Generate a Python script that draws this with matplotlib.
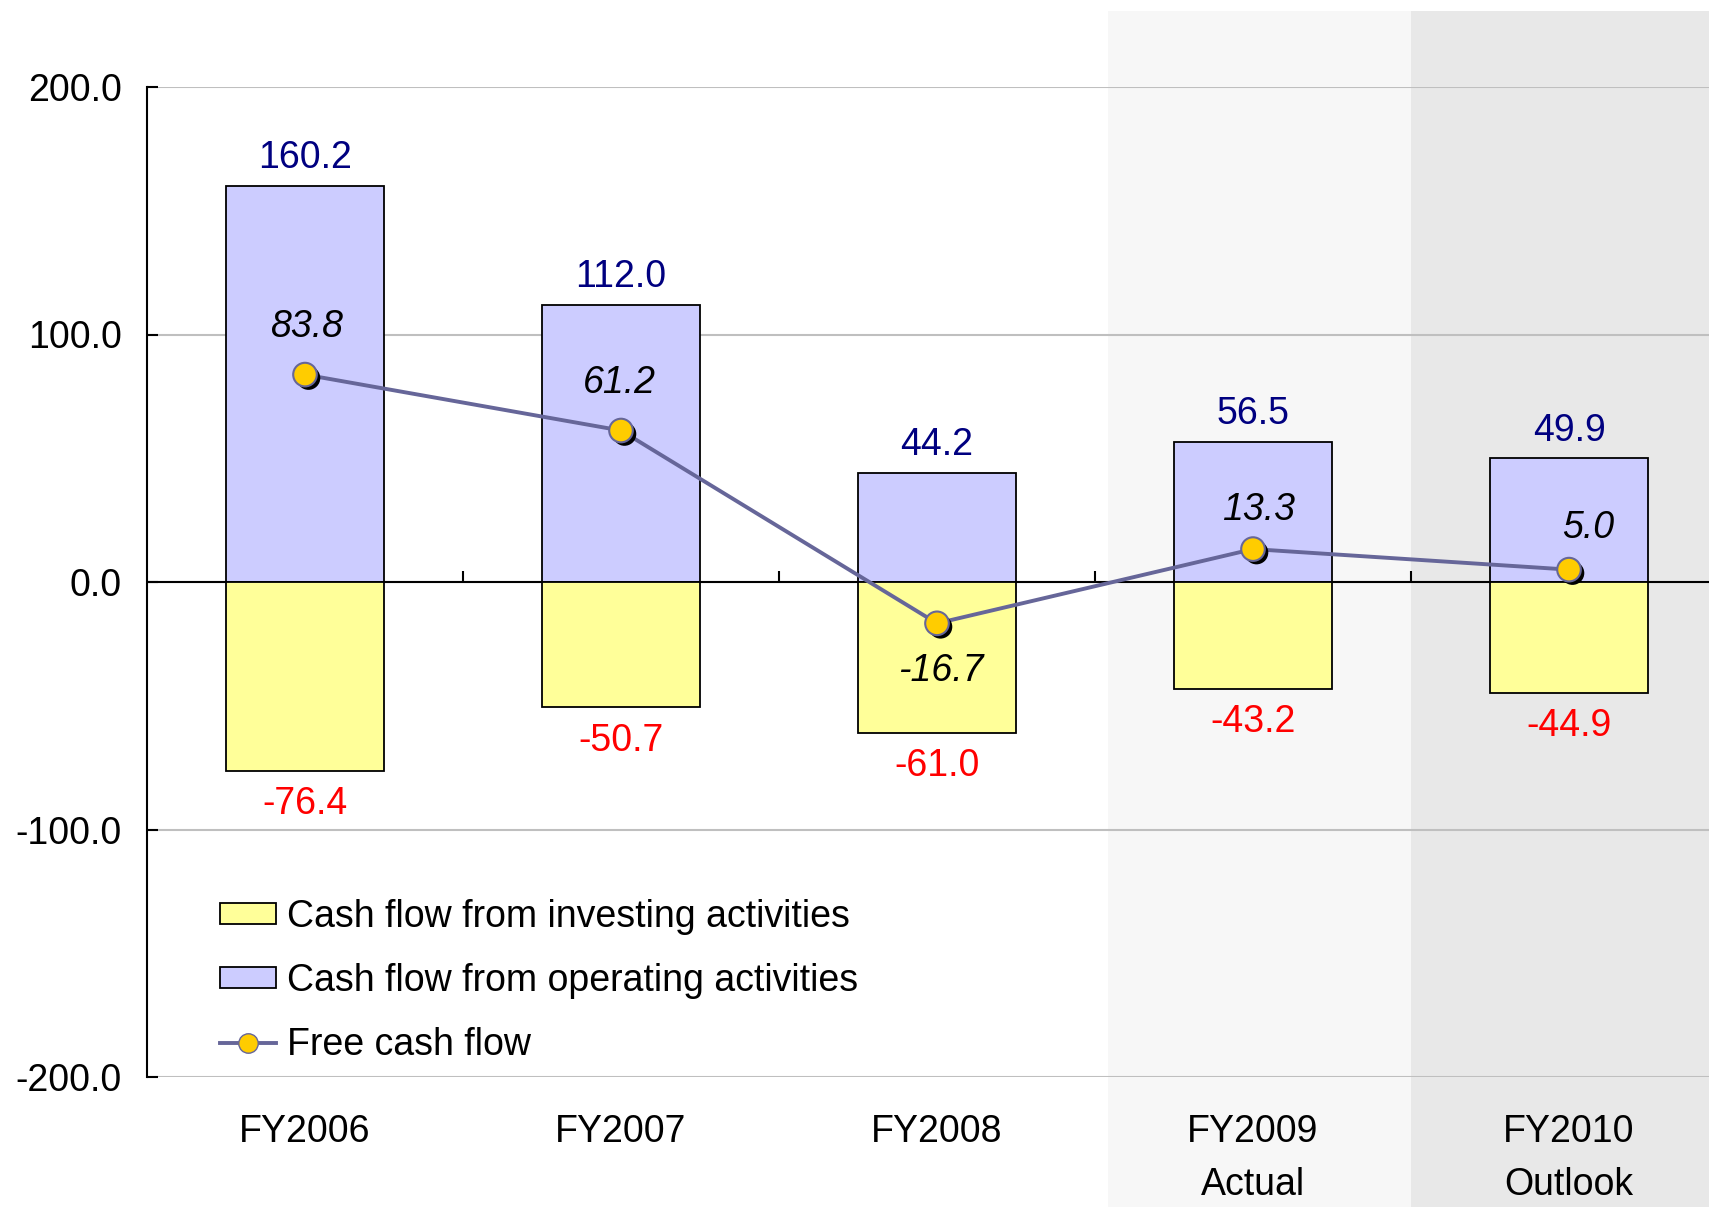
import matplotlib.pyplot as plt
import matplotlib.patheffects as pe
from matplotlib.patches import Rectangle, Patch
from matplotlib.lines import Line2D
import matplotlib.transforms as mtransforms

plt.rcParams['font.family'] = ['Liberation Sans', 'DejaVu Sans']

years = ['FY2006', 'FY2007', 'FY2008', 'FY2009\nActual', 'FY2010\nOutlook']
operating = [160.2, 112.0, 44.2, 56.5, 49.9]
investing = [-76.4, -50.7, -61.0, -43.2, -44.9]
free_cf = [83.8, 61.2, -16.7, 13.3, 5.0]

# label offsets (points) for the free cash flow labels
fcf_dx = [1, -1, 3, 4, 14]
fcf_dy = [34, 34, -34, 28, 30]

W, H = 1709, 1207
fig = plt.figure(figsize=(W / 100, H / 100), dpi=100)
ax = fig.add_axes([147 / W, 1 - 1077 / H, 1 - 147 / W, (1077 - 87) / H])
ax.set_facecolor('none')
x = list(range(len(years)))

# shaded background for actual / outlook columns
tr = mtransforms.blended_transform_factory(ax.transData, fig.transFigure)
top = 1 - 11 / H
ax.add_patch(Rectangle((2.54, 0), 3.5 - 2.54, top, transform=tr, facecolor='#F7F7F7',
                       edgecolor='none', clip_on=False, zorder=-5))
ax.add_patch(Rectangle((3.5, 0), 1.5, top, transform=tr, facecolor='#E8E8E8',
                       edgecolor='none', clip_on=False, zorder=-5))

ax.bar(x, operating, width=0.5, color='#CCCCFF', edgecolor='black', linewidth=1.3, zorder=3)
ax.bar(x, investing, width=0.5, color='#FFFF99', edgecolor='black', linewidth=1.3, zorder=3)

ax.plot(x, free_cf, color='#666699', linewidth=2.8, zorder=4)
ax.plot(x, free_cf, ls='none', marker='o', markersize=17, markerfacecolor='#FFCC00',
        markeredgecolor='#666699', markeredgewidth=1.5, zorder=5,
        path_effects=[pe.SimplePatchShadow(offset=(2.5, -2.5), shadow_rgbFace='black', alpha=1),
                      pe.Normal()])

fs = 27
for i in x:
    ax.annotate(f'{operating[i]:.1f}', (i, operating[i]), xytext=(0, 20), textcoords='offset points',
                ha='center', va='center', fontsize=fs, color='#000080', zorder=6)
    ax.annotate(f'{investing[i]:.1f}', (i, investing[i]), xytext=(0, -24), textcoords='offset points',
                ha='center', va='center', fontsize=fs, color='#FF0000', zorder=6)
    ax.annotate(f'{free_cf[i]:.1f}', (i, free_cf[i]), xytext=(fcf_dx[i], fcf_dy[i]),
                textcoords='offset points', ha='center', va='center', fontsize=fs,
                style='italic', color='black', zorder=6)

ax.set_xlim(-0.5, 4.443)
ax.set_ylim(-200, 200)
ax.set_yticks([-200, -100, 0, 100, 200])
ax.set_yticklabels([f'{v:.1f}' for v in [-200, -100, 0, 100, 200]])
ax.yaxis.grid(True, color='#BFBFBF', linewidth=1.5, zorder=0)
ax.set_axisbelow(True)
ax.axhline(0, color='black', linewidth=1.5, zorder=2)

for s in ['top', 'right']:
    ax.spines[s].set_visible(False)
ax.spines['left'].set_linewidth(1.5)
ax.spines['bottom'].set_position(('data', 0))
ax.spines['bottom'].set_visible(False)

ax.set_xticks(x)
ax.set_xticklabels(years, fontsize=fs, linespacing=1.6, va='top')
ax.set_xticks([0.5, 1.5, 2.5, 3.5], minor=True)
ax.tick_params(axis='x', which='major', length=0, pad=383)
ax.tick_params(axis='x', which='minor', direction='in', length=8, width=1.5, color='black')
ax.tick_params(axis='y', direction='in', length=8, width=1.5, labelsize=fs, pad=18)

handles = [Patch(facecolor='#FFFF99', edgecolor='black', linewidth=1.3),
           Patch(facecolor='#CCCCFF', edgecolor='black', linewidth=1.3),
           Line2D([], [], color='#666699', linewidth=2.8, marker='o', markersize=14,
                  markerfacecolor='#FFCC00', markeredgecolor='#666699')]
labels = ['Cash flow from investing activities', 'Cash flow from operating activities',
          'Free cash flow']
ax.legend(handles, labels, loc='upper left', bbox_to_anchor=(0.037, 0.195), frameon=False,
          fontsize=fs, handlelength=1.5, handleheight=0.5, handletextpad=0.3,
          labelspacing=0.75, borderaxespad=0)

fig.savefig('out.png', dpi=100)
